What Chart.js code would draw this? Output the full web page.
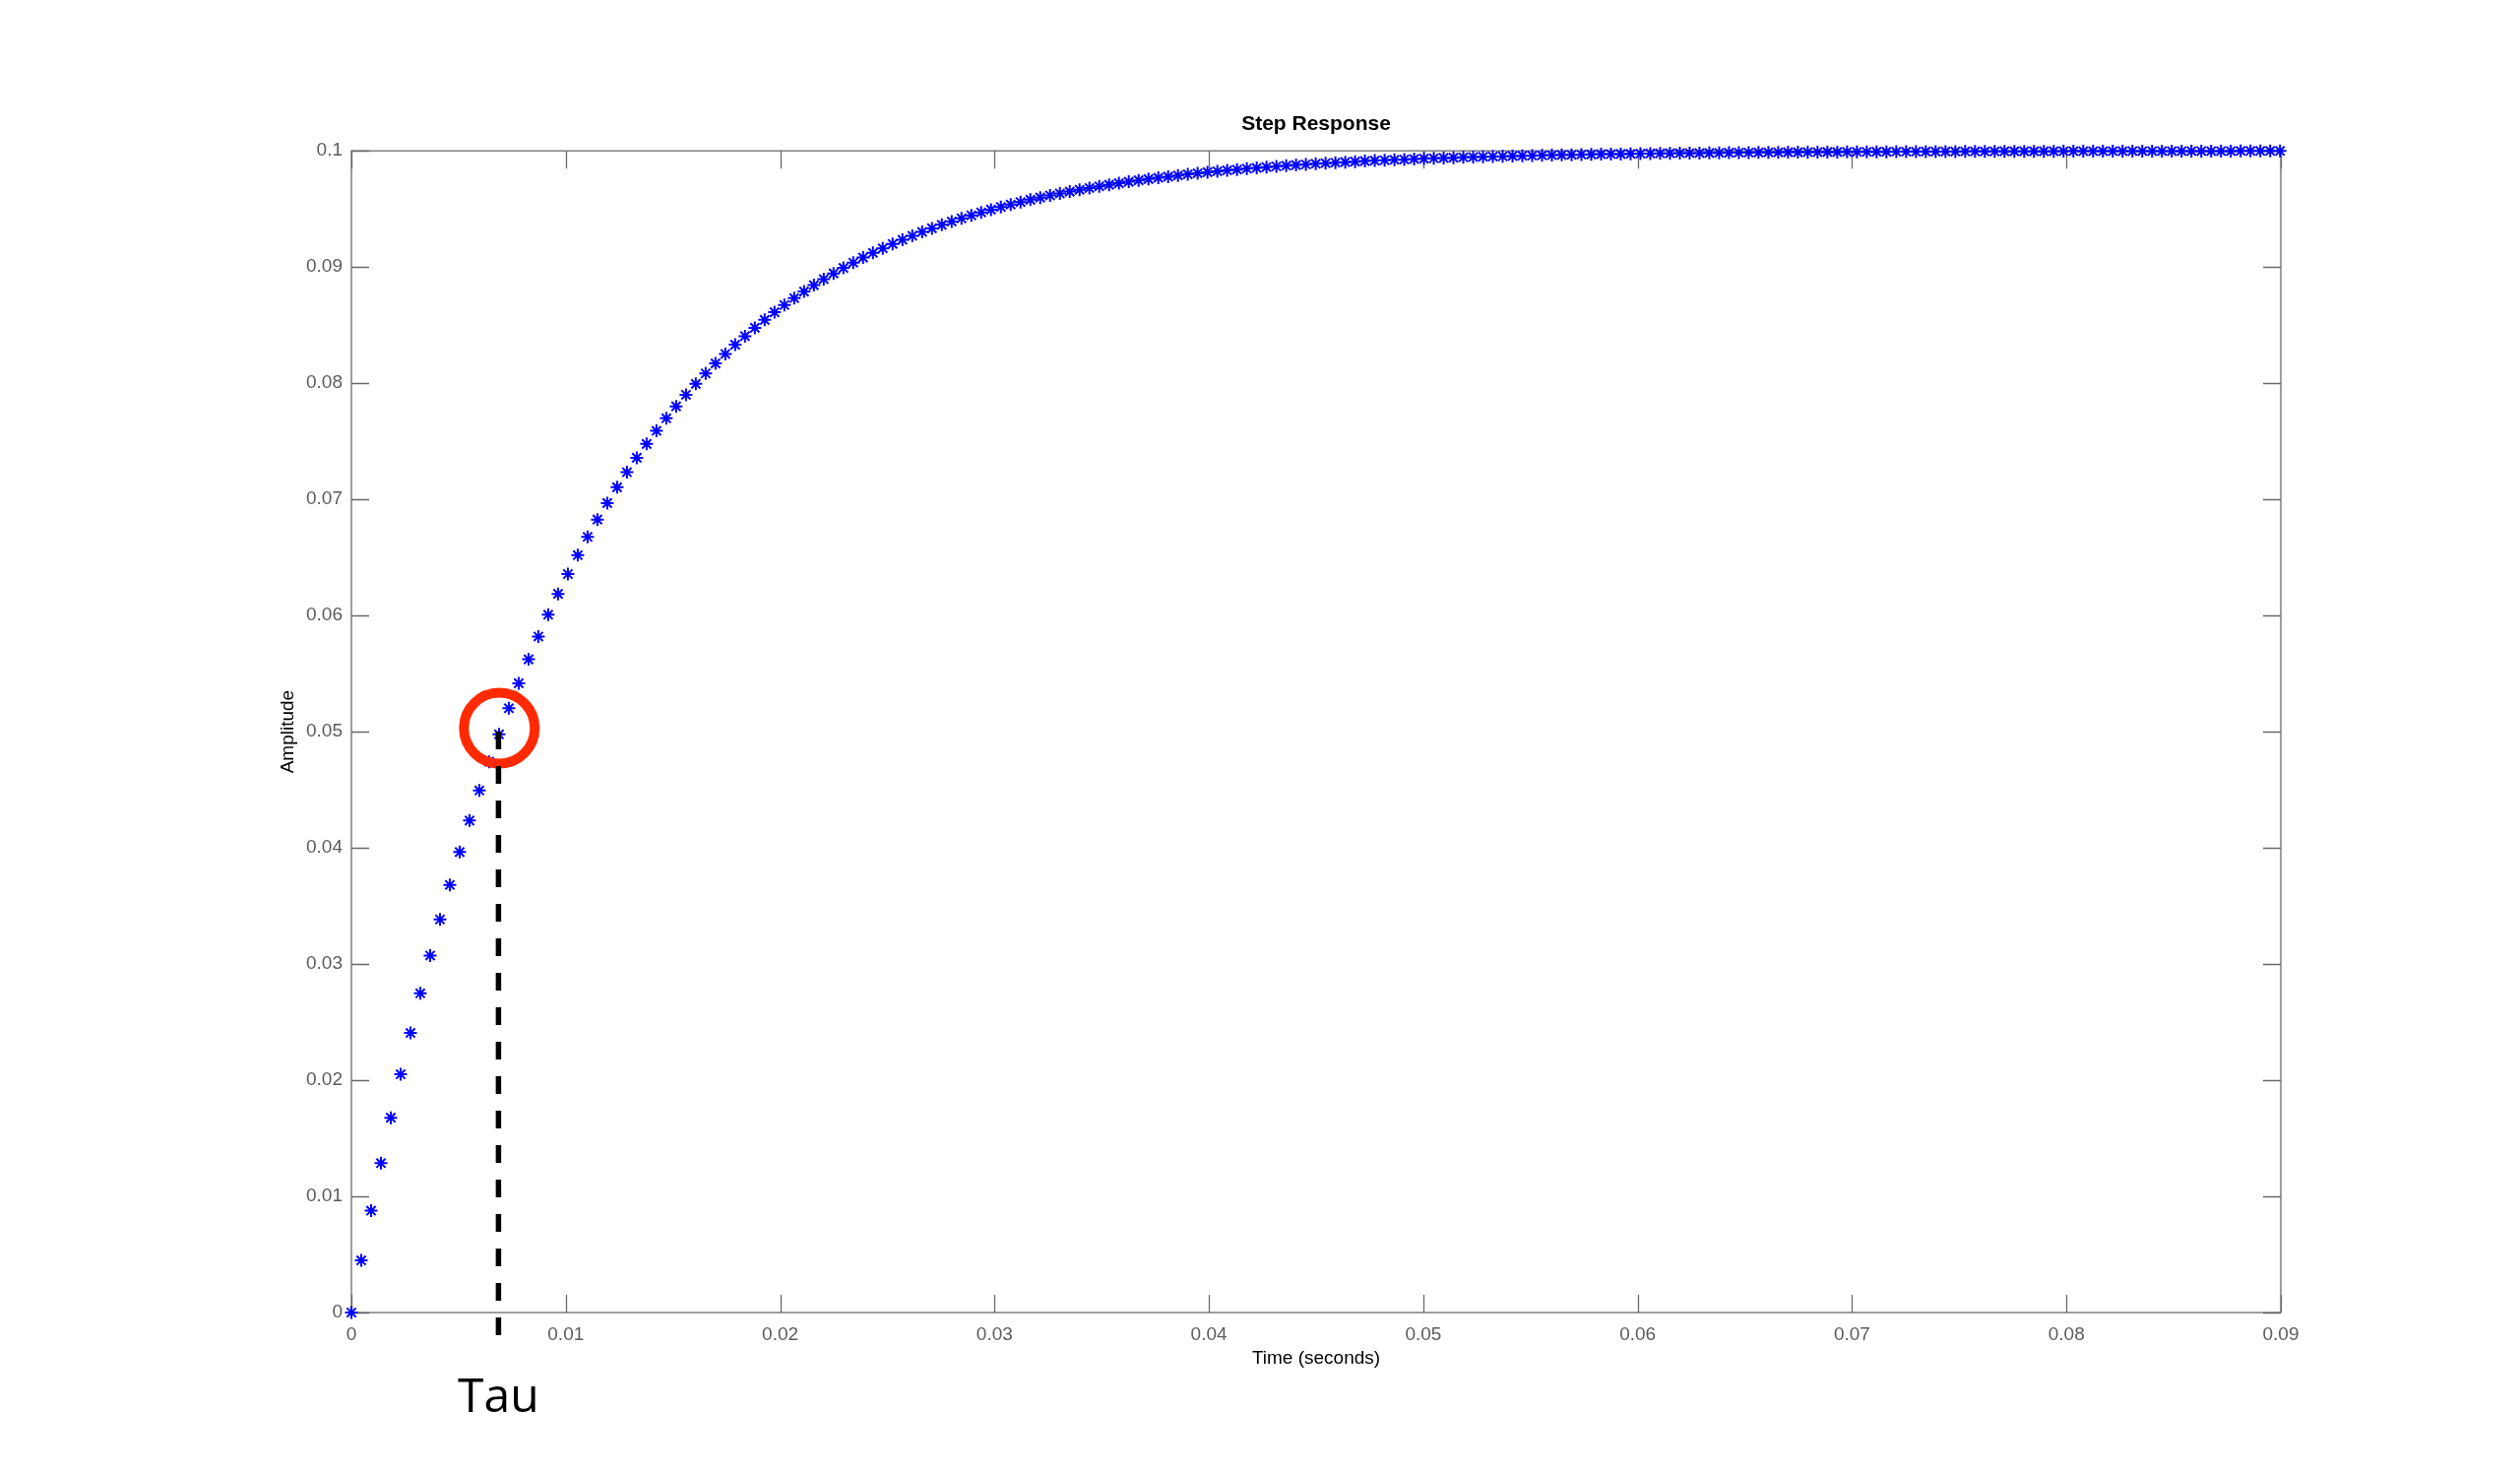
<!DOCTYPE html>
<html>
<head>
<meta charset="utf-8">
<title>Step Response</title>
<script src="https://cdn.jsdelivr.net/npm/chart.js@4.4.1/dist/chart.umd.min.js"></script>
<style>
  html, body { margin: 0; padding: 0; background: #ffffff; overflow: hidden; }
  canvas { display: block; }
</style>
</head>
<body>
<canvas id="step-chart" width="2560" height="1498"></canvas>
<script>
// Step response samples (time in seconds)
const timeValues = [
    0, 0.000459, 0.000918, 0.001377, 0.001836, 0.002295, 0.002754, 0.003213, 0.003672, 0.004131,
    0.00459, 0.005049, 0.005508, 0.005967, 0.006426, 0.006885, 0.007344, 0.007803, 0.008262, 0.008721,
    0.00918, 0.009639, 0.010098, 0.010557, 0.011016, 0.011475, 0.011934, 0.012393, 0.012852, 0.013311,
    0.01377, 0.014229, 0.014688, 0.015147, 0.015606, 0.016065, 0.016524, 0.016983, 0.017442, 0.017901,
    0.01836, 0.018819, 0.019278, 0.019737, 0.020196, 0.020655, 0.021114, 0.021573, 0.022032, 0.022491,
    0.02295, 0.023409, 0.023868, 0.024327, 0.024786, 0.025245, 0.025704, 0.026163, 0.026622, 0.027081,
    0.02754, 0.027999, 0.028458, 0.028917, 0.029376, 0.029835, 0.030294, 0.030753, 0.031212, 0.031671,
    0.03213, 0.032589, 0.033048, 0.033507, 0.033966, 0.034425, 0.034884, 0.035343, 0.035802, 0.036261,
    0.03672, 0.037179, 0.037638, 0.038097, 0.038556, 0.039015, 0.039474, 0.039933, 0.040392, 0.040851,
    0.04131, 0.041769, 0.042228, 0.042687, 0.043146, 0.043605, 0.044064, 0.044523, 0.044982, 0.045441,
    0.0459, 0.046359, 0.046818, 0.047277, 0.047736, 0.048195, 0.048654, 0.049113, 0.049572, 0.050031,
    0.05049, 0.050949, 0.051408, 0.051867, 0.052326, 0.052785, 0.053244, 0.053703, 0.054162, 0.054621,
    0.05508, 0.055539, 0.055998, 0.056457, 0.056916, 0.057375, 0.057834, 0.058293, 0.058752, 0.059211,
    0.05967, 0.060129, 0.060588, 0.061047, 0.061506, 0.061965, 0.062424, 0.062883, 0.063342, 0.063801,
    0.06426, 0.064719, 0.065178, 0.065637, 0.066096, 0.066555, 0.067014, 0.067473, 0.067932, 0.068391,
    0.06885, 0.069309, 0.069768, 0.070227, 0.070686, 0.071145, 0.071604, 0.072063, 0.072522, 0.072981,
    0.07344, 0.073899, 0.074358, 0.074817, 0.075276, 0.075735, 0.076194, 0.076653, 0.077112, 0.077571,
    0.07803, 0.078489, 0.078948, 0.079407, 0.079866, 0.080325, 0.080784, 0.081243, 0.081702, 0.082161,
    0.08262, 0.083079, 0.083538, 0.083997, 0.084456, 0.084915, 0.085374, 0.085833, 0.086292, 0.086751,
    0.08721, 0.087669, 0.088128, 0.088587, 0.089046, 0.089505, 0.089964
];

const amplitudeValues = [
    0, 0.00449, 0.00877, 0.01286, 0.01677, 0.02051, 0.02407, 0.02748, 0.03073, 0.03384,
    0.03681, 0.03964, 0.04235, 0.04494, 0.04741, 0.04977, 0.05202, 0.05417, 0.05623, 0.05819,
    0.06007, 0.06186, 0.06357, 0.06520, 0.06677, 0.06826, 0.06968, 0.07104, 0.07234, 0.07358,
    0.07477, 0.07590, 0.07698, 0.07801, 0.07900, 0.07994, 0.08084, 0.08170, 0.08252, 0.08331,
    0.08405, 0.08477, 0.08545, 0.08611, 0.08673, 0.08732, 0.08789, 0.08844, 0.08896, 0.08945,
    0.08992, 0.09038, 0.09081, 0.09122, 0.09161, 0.09199, 0.09235, 0.09269, 0.09302, 0.09333,
    0.09363, 0.09392, 0.09419, 0.09445, 0.09470, 0.09494, 0.09517, 0.09538, 0.09559, 0.09579,
    0.09598, 0.09616, 0.09633, 0.09649, 0.09665, 0.09680, 0.09695, 0.09708, 0.09721, 0.09734,
    0.09746, 0.09757, 0.09768, 0.09778, 0.09788, 0.09798, 0.09807, 0.09816, 0.09824, 0.09832,
    0.09839, 0.09847, 0.09853, 0.09860, 0.09866, 0.09872, 0.09878, 0.09883, 0.09889, 0.09894,
    0.09898, 0.09903, 0.09907, 0.09912, 0.09916, 0.09919, 0.09923, 0.09926, 0.09930, 0.09933,
    0.09936, 0.09939, 0.09941, 0.09944, 0.09947, 0.09949, 0.09951, 0.09953, 0.09956, 0.09958,
    0.09959, 0.09961, 0.09963, 0.09965, 0.09966, 0.09968, 0.09969, 0.09971, 0.09972, 0.09973,
    0.09974, 0.09976, 0.09977, 0.09978, 0.09979, 0.09980, 0.09981, 0.09981, 0.09982, 0.09983,
    0.09984, 0.09985, 0.09985, 0.09986, 0.09987, 0.09987, 0.09988, 0.09988, 0.09989, 0.09989,
    0.09990, 0.09990, 0.09991, 0.09991, 0.09991, 0.09992, 0.09992, 0.09993, 0.09993, 0.09993,
    0.09994, 0.09994, 0.09994, 0.09994, 0.09995, 0.09995, 0.09995, 0.09995, 0.09996, 0.09996,
    0.09996, 0.09996, 0.09996, 0.09996, 0.09997, 0.09997, 0.09997, 0.09997, 0.09997, 0.09997,
    0.09997, 0.09998, 0.09998, 0.09998, 0.09998, 0.09998, 0.09998, 0.09998, 0.09998, 0.09998,
    0.09998, 0.09998, 0.09999, 0.09999, 0.09999, 0.09999, 0.09999
];

// Tau marker: time where the response reaches half of its final value
const tauTime = 0.00686;
const tauAmplitude = 0.05;
const tauLineEnd = -0.0024;   // dashed line runs a little below the axis
const circleCenter = { x: 0.0069, y: 0.0503 };

// Tick values for both axes
const xTicks = [0, 0.01, 0.02, 0.03, 0.04, 0.05, 0.06, 0.07, 0.08, 0.09];
const yTicks = [0, 0.01, 0.02, 0.03, 0.04, 0.05, 0.06, 0.07, 0.08, 0.09, 0.1];

const fontFamily = "'Liberation Sans', Arial, sans-serif";
const axisColor = "#6a6a6a";
const labelColor = "#5c5c5c";

function formatTick(value) {
    return String(+value.toFixed(2));
}

// Box around the plot plus inward tick marks on all four sides
const axesBoxPlugin = {
    id: "axesBox",
    beforeDatasetsDraw(chart) {
        const ctx = chart.ctx;
        const area = chart.chartArea;
        const xScale = chart.scales.x;
        const yScale = chart.scales.y;
        const tickLen = 18;

        ctx.save();
        ctx.strokeStyle = axisColor;
        ctx.lineWidth = 1.3;
        ctx.strokeRect(area.left, area.top, area.right - area.left, area.bottom - area.top);

        ctx.beginPath();
        xTicks.forEach(v => {
            const px = Math.round(xScale.getPixelForValue(v)) + 0.5;
            ctx.moveTo(px, area.bottom);
            ctx.lineTo(px, area.bottom - tickLen);
            ctx.moveTo(px, area.top);
            ctx.lineTo(px, area.top + tickLen);
        });
        yTicks.forEach(v => {
            const py = Math.round(yScale.getPixelForValue(v)) + 0.5;
            ctx.moveTo(area.left, py);
            ctx.lineTo(area.left + tickLen, py);
            ctx.moveTo(area.right, py);
            ctx.lineTo(area.right - tickLen, py);
        });
        ctx.stroke();
        ctx.restore();
    }
};

// "Tau" written under the dashed line
const tauLabelPlugin = {
    id: "tauLabel",
    afterDraw(chart) {
        const ctx = chart.ctx;
        const px = chart.scales.x.getPixelForValue(tauTime);
        ctx.save();
        ctx.fillStyle = "#000000";
        ctx.font = "48px 'Open Sans', 'DejaVu Sans', sans-serif";
        ctx.textAlign = "center";
        ctx.textBaseline = "middle";
        ctx.fillText("Tau", px, chart.chartArea.bottom + 87);
        ctx.restore();
    }
};

const stepPoints = timeValues.map((t, i) => ({ x: t, y: amplitudeValues[i] }));

const ctx = document.getElementById("step-chart").getContext("2d");

new Chart(ctx, {
    type: "scatter",
    data: {
        datasets: [
            {
                label: "Tau line",
                data: [{ x: tauTime, y: tauAmplitude }, { x: tauTime, y: tauLineEnd }],
                showLine: true,
                borderColor: "#000000",
                borderWidth: 5.5,
                borderDash: [18, 17],
                pointRadius: 0,
                clip: false
            },
            {
                label: "Tau circle",
                data: [circleCenter],
                pointStyle: "circle",
                pointRadius: 36,
                borderWidth: 10,
                borderColor: "#ff2a00",
                backgroundColor: "rgba(0,0,0,0)",
                clip: false
            },
            {
                label: "Step response",
                data: stepPoints,
                showLine: false,
                pointStyle: "star",
                pointRadius: 6.5,
                borderWidth: 2,
                borderColor: "#0000ff",
                backgroundColor: "#0000ff",
                clip: false
            }
        ]
    },
    options: {
        responsive: false,
        animation: false,
        events: [],
        layout: { padding: { left: 0, right: 243, top: 0, bottom: 0 } },
        plugins: {
            legend: { display: false },
            tooltip: { enabled: false },
            title: {
                display: true,
                text: "Step Response",
                color: "#000000",
                fullSize: false,
                font: { family: fontFamily, size: 21, weight: "bold" },
                padding: { top: 114, bottom: 14 }
            }
        },
        scales: {
            x: {
                type: "linear",
                min: 0,
                max: 0.09,
                afterBuildTicks: scale => { scale.ticks = xTicks.map(v => ({ value: v })); },
                afterFit: scale => { scale.height = 165; },
                grid: { display: false, drawTicks: false },
                border: { display: false },
                ticks: {
                    color: labelColor,
                    font: { family: fontFamily, size: 19 },
                    padding: 11,
                    maxRotation: 0,
                    autoSkip: false,
                    callback: formatTick
                },
                title: {
                    display: true,
                    text: "Time (seconds)",
                    color: "#000000",
                    font: { family: fontFamily, size: 19 },
                    padding: { top: 4, bottom: 107 }
                }
            },
            y: {
                type: "linear",
                min: 0,
                max: 0.1,
                afterBuildTicks: scale => { scale.ticks = yTicks.map(v => ({ value: v })); },
                afterFit: scale => { scale.width = 357; },
                grid: { display: false, drawTicks: false },
                border: { display: false },
                ticks: {
                    color: labelColor,
                    font: { family: fontFamily, size: 19 },
                    padding: 9,
                    autoSkip: false,
                    callback: formatTick
                },
                title: {
                    display: true,
                    text: "Amplitude",
                    color: "#000000",
                    font: { family: fontFamily, size: 19 },
                    padding: { top: 281, bottom: 4 }
                }
            }
        }
    },
    plugins: [axesBoxPlugin, tauLabelPlugin]
});
</script>
</body>
</html>
